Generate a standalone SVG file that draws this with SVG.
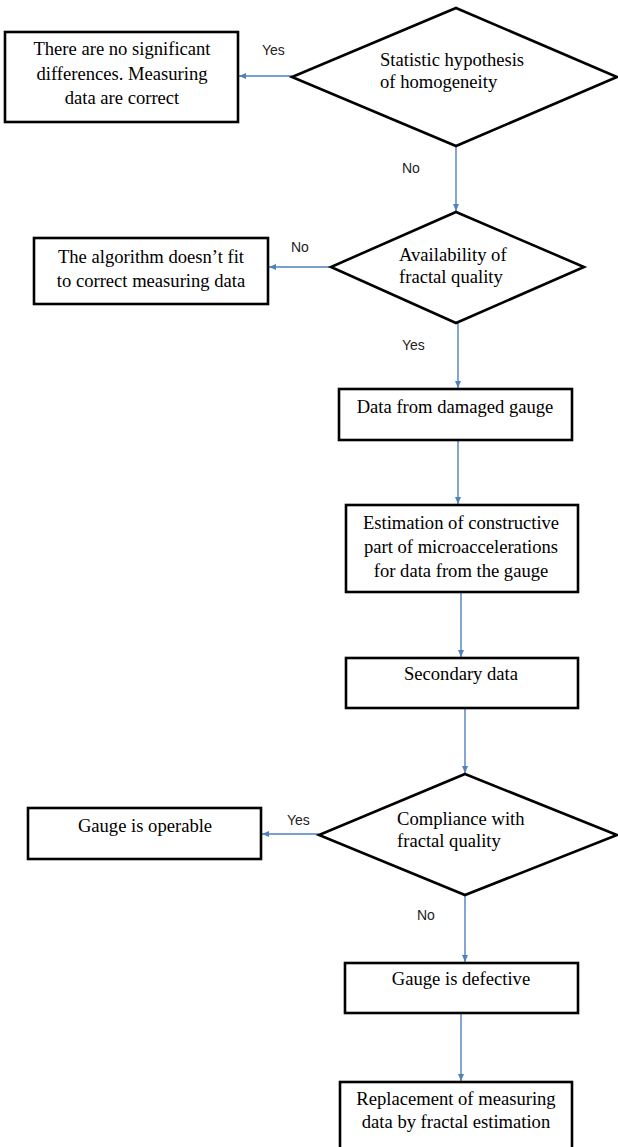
<svg xmlns="http://www.w3.org/2000/svg" width="618" height="1147" viewBox="0 0 618 1147">
<defs>
<marker id="arr" markerUnits="userSpaceOnUse" markerWidth="8" markerHeight="8" refX="7" refY="3.5" orient="auto">
<path d="M0,0.5 L7,3.5 L0,6.5 z" fill="#4f81bd"/>
</marker>
<style>
.box{fill:#fff;stroke:#000;stroke-width:2.6}
.dia{fill:#fff;stroke:#000;stroke-width:2.6;stroke-linejoin:miter}
.t{font-family:"Liberation Serif","Times New Roman",serif;font-size:18.6px;fill:#000}
.c{text-anchor:middle}
.lbl{font-family:"Liberation Sans",Arial,sans-serif;font-size:14px;fill:#222}
.con{stroke:#4f81bd;stroke-width:1.4;fill:none;marker-end:url(#arr)}
</style>
</defs>
<rect width="618" height="1147" fill="#fff"/>
<g id="connectors">
<line class="con" x1="292" y1="76" x2="239" y2="76"/>
<line class="con" x1="456" y1="146" x2="456" y2="211"/>
<line class="con" x1="331" y1="267" x2="269" y2="267"/>
<line class="con" x1="458" y1="323" x2="458" y2="388"/>
<line class="con" x1="458" y1="440" x2="458" y2="504"/>
<line class="con" x1="461" y1="592" x2="461" y2="657"/>
<line class="con" x1="465" y1="708" x2="465" y2="773"/>
<line class="con" x1="319" y1="834" x2="262" y2="834"/>
<line class="con" x1="465" y1="895" x2="465" y2="962"/>
<line class="con" x1="461" y1="1013" x2="461" y2="1081"/>
<text class="lbl" x="262" y="55">Yes</text>
<text class="lbl" x="402" y="173">No</text>
<text class="lbl" x="291" y="252">No</text>
<text class="lbl" x="402" y="350">Yes</text>
<text class="lbl" x="287" y="825">Yes</text>
<text class="lbl" x="417" y="920">No</text>
</g>
<g id="n1">
<rect class="box" x="5" y="32" width="233" height="90"/>
<text class="t c" x="122" y="55">There are no significant</text>
<text class="t c" x="122" y="80">differences. Measuring</text>
<text class="t c" x="122" y="104">data are correct</text>
</g>
<g id="d1">
<polygon class="dia" points="456,8 617,77 456,146 292,77"/>
<text class="t" x="380" y="66">Statistic hypothesis</text>
<text class="t" x="380" y="88">of homogeneity</text>
</g>
<g id="n2">
<rect class="box" x="34" y="238" width="234" height="66"/>
<text class="t c" x="151" y="263">The algorithm doesn’t fit</text>
<text class="t c" x="151" y="287">to correct measuring data</text>
</g>
<g id="d2">
<polygon class="dia" points="456,212 584,267 456,323 331,267"/>
<text class="t" x="399" y="261">Availability of</text>
<text class="t" x="399" y="283">fractal quality</text>
</g>
<g id="n3">
<rect class="box" x="339" y="389" width="233" height="51"/>
<text class="t c" x="455" y="413">Data from damaged gauge</text>
</g>
<g id="n4">
<rect class="box" x="346" y="505" width="232" height="87"/>
<text class="t c" x="461" y="529">Estimation of constructive</text>
<text class="t c" x="461" y="553">part of microaccelerations</text>
<text class="t c" x="461" y="577">for data from the gauge</text>
</g>
<g id="n5">
<rect class="box" x="346" y="658" width="232" height="50"/>
<text class="t c" x="461" y="680">Secondary data</text>
</g>
<g id="d3">
<polygon class="dia" points="465,774 617,835 465,895 319,835"/>
<text class="t" x="397" y="825">Compliance with</text>
<text class="t" x="397" y="847">fractal quality</text>
</g>
<g id="n6">
<rect class="box" x="28" y="808" width="233" height="51"/>
<text class="t c" x="145" y="832">Gauge is operable</text>
</g>
<g id="n7">
<rect class="box" x="345" y="963" width="233" height="50"/>
<text class="t c" x="461" y="985">Gauge is defective</text>
</g>
<g id="n8">
<rect class="box" x="340" y="1082" width="232" height="90"/>
<text class="t c" x="456" y="1105">Replacement of measuring</text>
<text class="t c" x="456" y="1128">data by fractal estimation</text>
</g>
</svg>
